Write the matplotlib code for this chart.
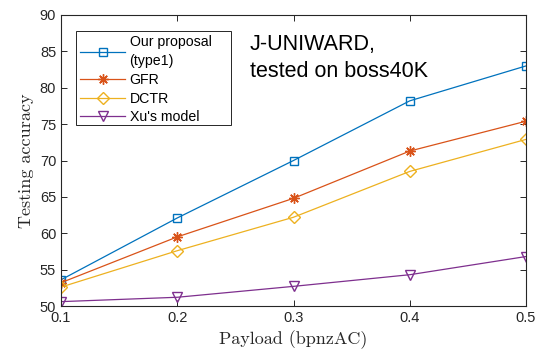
import matplotlib
matplotlib.use("Agg")
import matplotlib.pyplot as plt
from matplotlib.patches import Rectangle

payload = [0.1, 0.2, 0.3, 0.4, 0.5]
ours = [53.6, 62.1, 70.0, 78.2, 83.0]
gfr = [53.2, 59.5, 64.8, 71.3, 75.4]
dctr = [52.6, 57.6, 62.2, 68.5, 72.9]
xu = [50.6, 51.2, 52.7, 54.3, 56.8]

labels = ["Our proposal\n(type1)", "GFR", "DCTR", "Xu's model"]
xticks = [0.1, 0.2, 0.3, 0.4, 0.5]
yticks = [50, 55, 60, 65, 70, 75, 80, 85, 90]

plt.rcParams['font.family'] = ['Liberation Sans', 'DejaVu Sans']

W, H = 536, 354
fig = plt.figure(figsize=(W/100, H/100), dpi=100)
ax = fig.add_axes([61/W, 1-306/H, 465/W, 291/H])

lw = 0.9
ax.plot(payload, ours, color='#0072BD', lw=lw, marker='s', ms=5.5, mfc='none', mew=1.0, label=labels[0])
ax.plot(payload, gfr, color='#D95319', lw=lw, marker=(8, 2, 0), ms=7.5, mew=1.0, label=labels[1])
ax.plot(payload, dctr, color='#EDB120', lw=lw, marker='D', ms=6, mfc='none', mew=1.0, label=labels[2])
ax.plot(payload, xu, color='#7E2F8E', lw=lw, marker='v', ms=7.5, mfc='none', mew=1.0, label=labels[3])

ax.set_xlim(0.1, 0.5)
ax.set_ylim(50, 90)
ax.set_xticks(xticks)
ax.set_xticklabels([f"{t:.1f}" for t in xticks])
ax.set_yticks(yticks)
ax.tick_params(direction='in', top=True, right=True, length=4, width=0.7,
               labelsize=10.5, colors='#262626')
for s in ax.spines.values():
    s.set_linewidth(0.8)
    s.set_color('#262626')

ax.set_xlabel("Payload (bpnzAC)", family='cmr10', fontsize=13, color='#262626', labelpad=4)
ax.set_ylabel("Testing accuracy", family='cmr10', fontsize=13, color='#262626', labelpad=4)

leg = ax.legend(loc='upper left', bbox_to_anchor=(80/W, 1-35/H), bbox_transform=fig.transFigure,
                fontsize=10.2, handlelength=3.2, handletextpad=0.3, labelspacing=0.32,
                borderpad=0, borderaxespad=0, frameon=False)
for t in leg.get_texts():
    t.set_linespacing(1.5)
leg.set_zorder(6)

ax.add_patch(Rectangle((76/W, 1-125/H), 155/W, 94/H, transform=fig.transFigure,
                       fill=True, facecolor='white', edgecolor='#262626', lw=0.7,
                       zorder=5, clip_on=False))

ax.text(0.406, 0.935, "J-UNIWARD,\ntested on boss40K", transform=ax.transAxes,
        fontsize=15.5, va='top', ha='left', color='black', linespacing=1.35)

fig.savefig("out.png", dpi=100)
